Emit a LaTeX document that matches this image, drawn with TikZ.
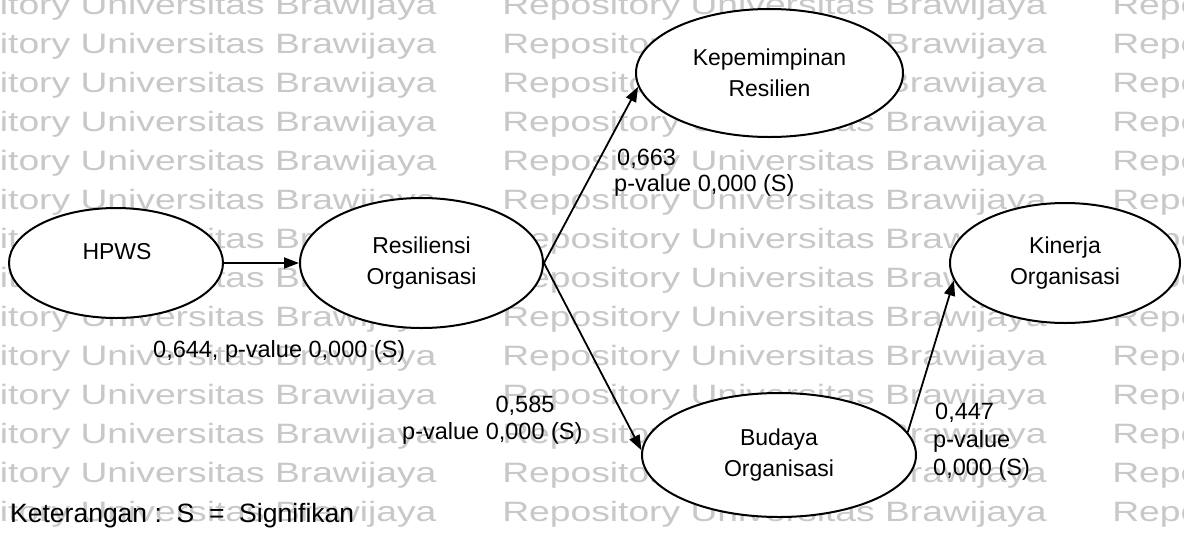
\documentclass[tikz,border=0pt]{standalone}
\usepackage{fontspec}
\setmainfont{Liberation Sans}
\usetikzlibrary{shapes.geometric,arrows.meta}
\definecolor{wmgray}{RGB}{200,200,200}
\tikzset{
  construct/.style={ellipse, draw=black, line width=2pt, fill=white, inner sep=0pt,
    align=center, font=\fontsize{23}{31}\selectfont},
  constructtext/.style={inner sep=0pt, font=\fontsize{23}{31}\selectfont},
  link/.style={line width=1.8pt, -{Triangle[length=15pt,width=11pt]}},
  coef/.style={inner sep=0pt, anchor=base west, font=\fontsize{23.5}{28}\selectfont},
  wmark/.style={inner sep=0pt, anchor=base west, text=wmgray,
    font=\fontsize{28}{32}\selectfont, xscale=1.33, transform shape}
}
\begin{document}
\begin{tikzpicture}[x=1pt, y=-1pt]
\useasboundingbox (0,0) rectangle (1184,539);
\fill[white] (0,0) rectangle (1184,539);

% repository watermark rows
\foreach \k in {0,...,13}{
  \foreach \c in {0,1,2}{
    \node[wmark] (wm-\k-\c) at (-108+610*\c, 14+39*\k) {Repository Universitas Brawijaya};
  }
}

% constructs
\node[construct, minimum width=214pt, minimum height=110pt] (hpws) at (116,263) {};
\node[constructtext] (hpws-t) at (117,252) {HPWS};
\node[construct, minimum width=243pt, minimum height=130pt] (res) at (421.5,263) {Resiliensi\\Organisasi};
\node[construct, minimum width=267pt, minimum height=128pt] (kep) at (769.5,73) {Kepemimpinan\\Resilien};
\node[construct, minimum width=230pt, minimum height=120pt] (kin) at (1065,263) {Kinerja\\Organisasi};
\node[construct, minimum width=274pt, minimum height=124pt] (bud) at (779,455) {Budaya\\Organisasi};

% paths
\draw[link] (hpws.east) -- (res.west);
\draw[link] (res.east) -- (kep.186);
\draw[link] (res.east) -- (bud.178);
\draw[link] (bud.10) -- (kin.189);

% path coefficients
\node[coef] (c663) at (617,165) {0,663};
\node[coef] (c663p) at (614,191) {p-value 0,000 (S)};
\node[coef] (c644) at (153,357) {0,644, p-value 0,000 (S)};
\node[coef, anchor=base] (c585) at (525,412) {0,585};
\node[coef] (c585p) at (402,439) {p-value 0,000 (S)};
\node[coef] (c447) at (935,419) {0,447};
\node[coef] (c447p) at (933,447) {p-value};
\node[coef] (c447s) at (933,475) {0,000 (S)};

\node[coef, font=\fontsize{26.5}{30}\selectfont] (note) at (10,522) {Keterangan :\ \ S\ \ =\ \ Signifikan};
\end{tikzpicture}
\end{document}
